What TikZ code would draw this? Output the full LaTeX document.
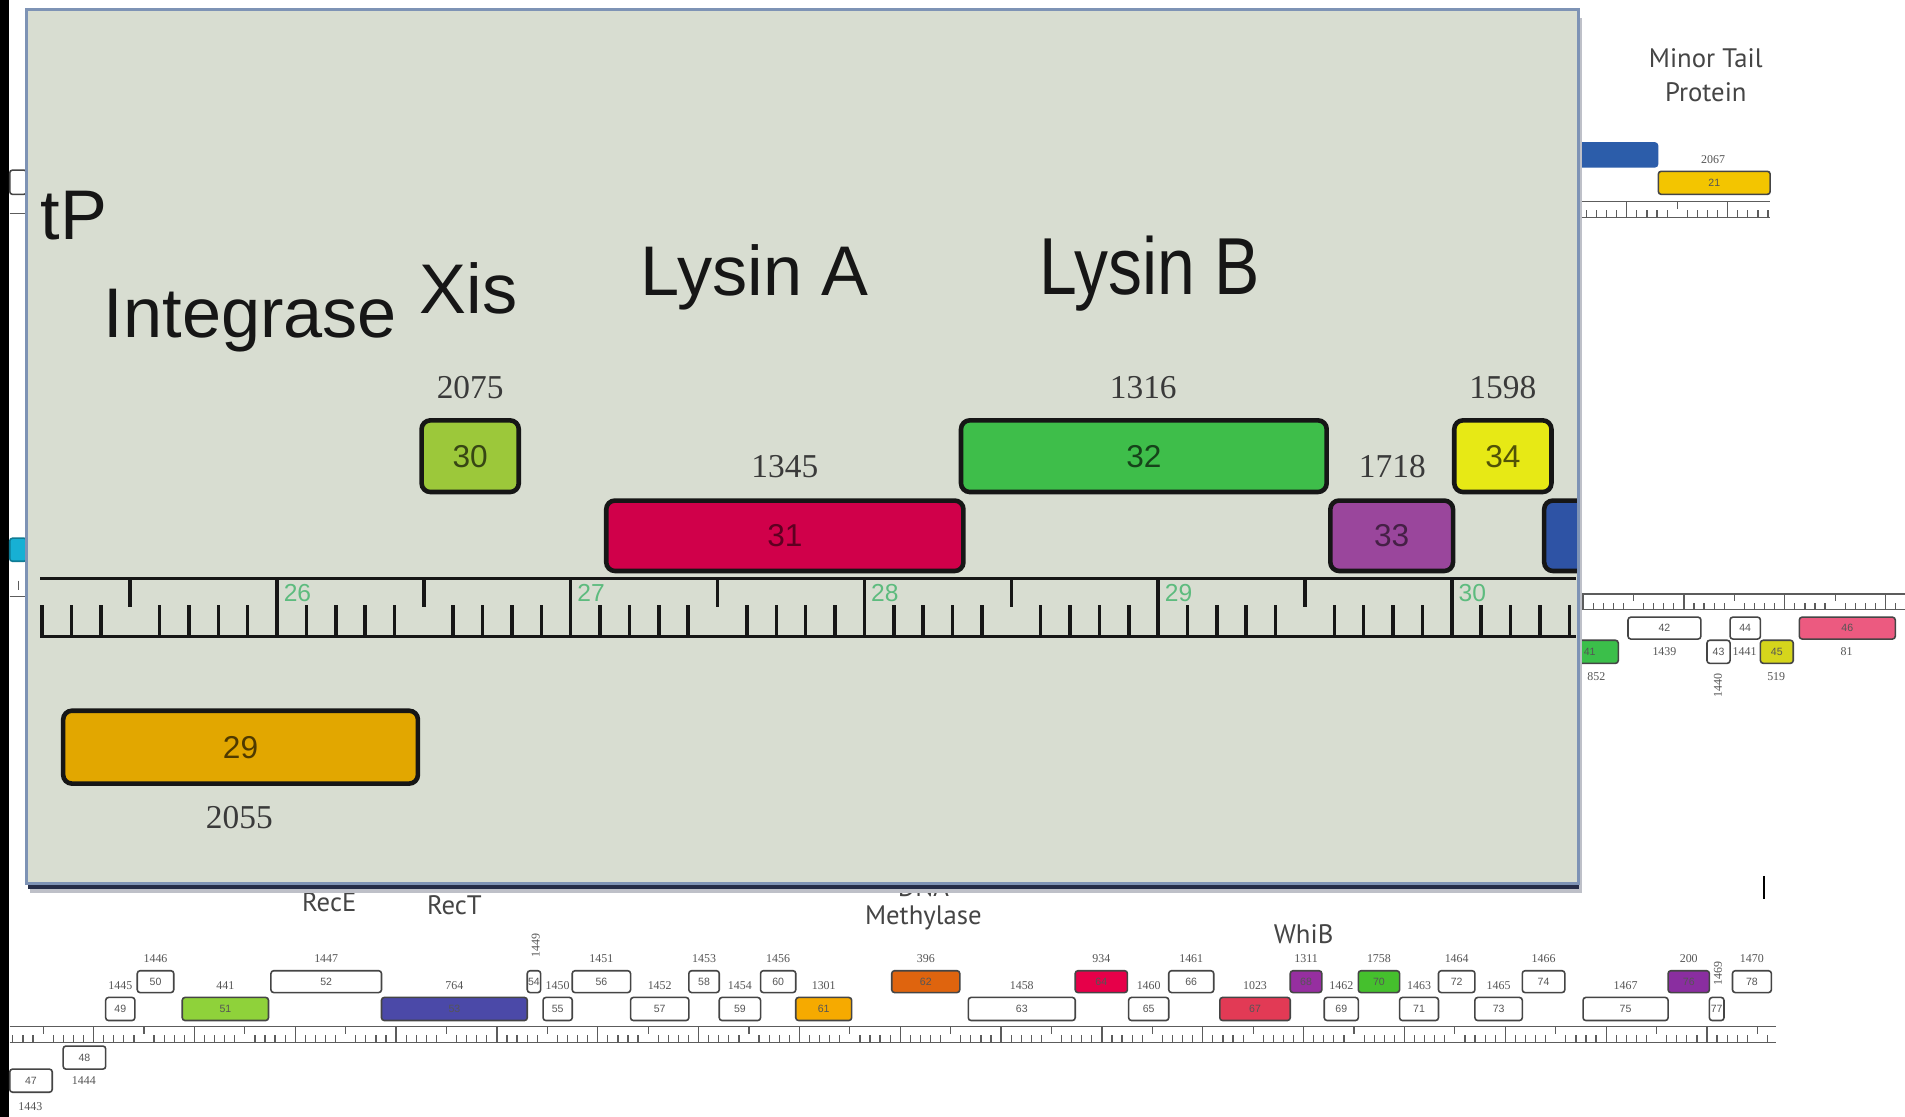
\documentclass[tikz,border=0pt]{standalone}
\usepackage{fontspec}
\usepackage{graphicx}
\setmainfont{Liberation Sans}
\newfontfamily\numfont{Liberation Serif}
\newfontfamily\mapfont{PT Sans}
\usetikzlibrary{positioning}
\definecolor{ink}     {HTML}{161616}
\definecolor{softink} {HTML}{555555}
\definecolor{numgray} {HTML}{3A3A3A}
\definecolor{panel}   {HTML}{D8DDD1}
\definecolor{rim}     {HTML}{7E93B5}
\definecolor{dropcol} {HTML}{252D48}
\definecolor{kbgreen} {HTML}{5DBB7E}
\definecolor{c29}{HTML}{E2A700}
\definecolor{c30}{HTML}{9CC83A}
\definecolor{c31}{HTML}{D0004A}
\definecolor{c32}{HTML}{3EBE4A}
\definecolor{c33}{HTML}{9A469C}
\definecolor{c34}{HTML}{E7E915}
\definecolor{c35}{HTML}{2E53A5}
\definecolor{cgold}{HTML}{F3C500}
\definecolor{cbar}{HTML}{2C5DAA}
\definecolor{ccyan}{HTML}{17B0D4}
\definecolor{c41}{HTML}{3BBF4A}
\definecolor{c45}{HTML}{D5D51C}
\definecolor{c46}{HTML}{EC5A80}
\definecolor{c51}{HTML}{8FD23A}
\definecolor{c53}{HTML}{4B49A8}
\definecolor{c61}{HTML}{F6AA00}
\definecolor{c62}{HTML}{DF640E}
\definecolor{c64}{HTML}{E60049}
\definecolor{c67}{HTML}{E23A55}
\definecolor{c68}{HTML}{962FA0}
\definecolor{c70}{HTML}{45C02D}
\definecolor{c76}{HTML}{8A2EA0}
\tikzset{
  % --- genes
  gene/.style  = {draw=ink, line width=1.3pt, rounded corners=2.5pt},
  mgene/.style = {draw=ink!80, line width=0.45pt, rounded corners=0.8pt},
  glbl/.style  = {font=\fontsize{9}{10}\selectfont, inner sep=0pt},
  mlbl/.style  = {font=\fontsize{3}{3}\selectfont, text=softink, inner sep=0pt},
  gnum/.style  = {font=\numfont\fontsize{9.5}{10}\selectfont, text=numgray, inner sep=0pt},
  mnum/.style  = {font=\numfont\fontsize{3.4}{3.4}\selectfont, text=softink, inner sep=0pt},
  % --- labels
  head/.style  = {font=\fontsize{20}{22}\selectfont, text=ink, inner sep=0pt, anchor=base west},
  func/.style  = {font=\mapfont\fontsize{7.6}{9.6}\selectfont, text=ink!80, align=center, inner sep=0pt},
  kb/.style    = {font=\fontsize{7}{7}\selectfont, text=kbgreen, inner sep=0pt, anchor=west},
  % --- rulers
  tick/.style  = {line width=1pt, draw=ink},
  mtick/.style = {line width=0.35pt, draw=ink!70},
}
% small ruler: top y, x of a kb tick, first, last tenth, left x, right x
\newcommand\miniruler[6]{%
  \draw[mtick] (#5,#1) -- (#6,#1);
  \draw[mtick] (#5,#1+13) -- (#6,#1+13);
  \foreach \i in {#3,...,#4}{
    \pgfmathsetmacro\xx{#2+\i*8.3}
    \pgfmathtruncatemacro\m{mod(\i+1000,10)}
    \ifnum\m=0 \draw[mtick] (\xx,#1) -- (\xx,#1+13);
    \else\ifnum\m=5 \draw[mtick] (\xx,#1) -- (\xx,#1+6);
    \else \draw[mtick] (\xx,#1+13) -- (\xx,#1+7); \fi\fi}}
% genes of the bottom map: x1, x2, fill, number, length
\newcommand\upgene[5]{%
  \draw[mgene, fill=#3] (#1,799) rectangle node[mlbl] (b#4) {#4} (#2,817);
  \node[mnum] (n#4) at ({(#1+#2)/2},789) {#5};}
\newcommand\logene[5]{%
  \draw[mgene, fill=#3] (#1,821) rectangle node[mlbl] (b#4) {#4} (#2,840);
  \node[mnum] (n#4) at ({(#1+#2)/2},811) {#5};}

\begin{document}
\begin{tikzpicture}[x=0.1215mm, y=-0.1215mm]
  \useasboundingbox (0,0) rectangle (1568,919);
  \fill[white] (0,0) rectangle (1568,919);
  \fill[black] (0,0) rectangle (7,919);

  % whole genome map behind the inset
  \draw[mgene, fill=white] (8,140) rectangle (22,160);
  \draw[mtick] (8,176) -- (22,176);
  \draw[mgene, fill=ccyan, draw=ccyan!70!black] (8,443) rectangle (22,462);
  \draw[mtick] (15,478) -- (15,486);
  \draw[mtick] (8,491) -- (22,491);

  \node[func] (mtp) at (1404,62) {Minor Tail\\Protein};
  \fill[cbar, rounded corners=1pt] (1280,117) rectangle (1365,138);
  \node[mnum] (n21) at (1410,131) {2067};
  \draw[mgene, fill=cgold] (1365,141) rectangle node[mlbl] (b21) {21} (1457,160);
  \miniruler{166}{1339}{-4}{14}{1299}{1457}

  \miniruler{489}{1303}{0}{31}{1299}{1568}
  \draw[mgene, fill=c41] (1285,527) rectangle node[mlbl] (b41) {41} (1332,546);
  \node[mnum] (n41) at (1314,557) {852};
  \draw[mgene, fill=white] (1340,508) rectangle node[mlbl] (b42) {42} (1400,526);
  \node[mnum] (n42) at (1370,536) {1439};
  \draw[mgene, fill=white] (1405,527) rectangle node[mlbl] (b43) {43} (1424,546);
  \node[mnum, rotate=90] (n43) at (1414,564) {1440};
  \draw[mgene, fill=white] (1424,508) rectangle node[mlbl] (b44) {44} (1449,526);
  \node[mnum] (n44) at (1436,536) {1441};
  \draw[mgene, fill=c45] (1449,527) rectangle node[mlbl] (b45) {45} (1476,546);
  \node[mnum] (n45) at (1462,557) {519};
  \draw[mgene, fill=c46] (1481,508) rectangle node[mlbl] (b46) {46} (1560,526);
  \node[mnum] (n46) at (1520,536) {81};

  \draw[line width=0.6pt] (1452,721) -- (1452,740);

  \node[func] (rece) at (271,743) {RecE};
  \node[func] (rect) at (374,745) {RecT};
  \node[func, font=\mapfont\fontsize{7.6}{7.8}\selectfont] (dnam) at (760,744) {DNA\\Methylase};
  \node[func] (whib) at (1073,769) {WhiB};

  \miniruler{845}{77}{-8}{166}{8}{1462}
  \draw[mgene, fill=white] (8,880) rectangle node[mlbl] (b47) {47} (43,899);
  \node[mnum] (n47) at (25,911) {1443};
  \draw[mgene, fill=white] (52,861) rectangle node[mlbl] (b48) {48} (87,880);
  \node[mnum] (n48) at (69,889) {1444};
  \logene{87}{111}{white}{49}{1445}
  \upgene{113}{143}{white}{50}{1446}
  \logene{150}{221}{c51}{51}{441}
  \upgene{223}{314}{white}{52}{1447}
  \logene{314}{434}{c53}{53}{764}
  \upgene{434}{445}{white}{54}{}
  \node[mnum, rotate=90] (n54) at (441,778) {1449};
  \logene{447}{471}{white}{55}{1450}
  \upgene{471}{519}{white}{56}{1451}
  \logene{519}{567}{white}{57}{1452}
  \upgene{567}{592}{white}{58}{1453}
  \logene{592}{626}{white}{59}{1454}
  \upgene{626}{655}{white}{60}{1456}
  \logene{655}{701}{c61}{61}{1301}
  \upgene{734}{790}{c62}{62}{396}
  \logene{797}{885}{white}{63}{1458}
  \upgene{885}{928}{c64}{64}{934}
  \logene{929}{962}{white}{65}{1460}
  \upgene{962}{999}{white}{66}{1461}
  \logene{1004}{1062}{c67}{67}{1023}
  \upgene{1062}{1088}{c68}{68}{1311}
  \logene{1090}{1118}{white}{69}{1462}
  \upgene{1118}{1152}{c70}{70}{1758}
  \logene{1152}{1184}{white}{71}{1463}
  \upgene{1184}{1214}{white}{72}{1464}
  \logene{1214}{1253}{white}{73}{1465}
  \upgene{1253}{1288}{white}{74}{1466}
  \logene{1303}{1373}{white}{75}{1467}
  \upgene{1373}{1407}{c76}{76}{200}
  \logene{1407}{1419}{white}{77}{}
  \node[mnum, rotate=90] (n77) at (1414,801) {1469};
  \upgene{1426}{1458}{white}{78}{1470}

  % the inset
  \fill[dropcol!30] (25,15) rectangle (1302,735);
  \fill[dropcol] (23,12) rectangle (1300,732);
  \draw[rim, line width=0.8pt, fill=panel] (22,8) rectangle (1299,727);

  \begin{scope}
    \clip (23,9) rectangle (1298,726);
    \node[head] (tp) at (33,197) {tP};
    \node[head] (int) at (85,278) {Integrase};
    \node[head] (xis) at (345,258) {Xis};
    \node[head] (lya) at (527,243) {Lysin A};
    \node[head] (lyb) at (855,242) {\scalebox{0.84}[1]{\fontsize{23}{25}\selectfont Lysin B}};

    \draw[gene, fill=c30] (347,346) rectangle node[glbl, text=c30!35!black] (g30) {30} (427,405);
    \node[gnum] (n30) at (387,319) {2075};
    \draw[gene, fill=c31] (499,412) rectangle node[glbl, text=c31!45!black] (g31) {31} (793,470);
    \node[gnum] (n31) at (646,384) {1345};
    \draw[gene, fill=c32] (791,346) rectangle node[glbl, text=c32!35!black] (g32) {32} (1092,405);
    \node[gnum] (n32) at (941,319) {1316};
    \draw[gene, fill=c33] (1095,412) rectangle node[glbl, text=c33!45!black] (g33) {33} (1196,470);
    \node[gnum] (n33) at (1146,384) {1718};
    \draw[gene, fill=c34] (1197,346) rectangle node[glbl, text=c34!35!black] (g34) {34} (1277,405);
    \node[gnum] (n34) at (1237,319) {1598};
    \draw[gene, fill=c35] (1271,412) rectangle (1330,470);
    \draw[gene, fill=c29] (52,585) rectangle node[glbl, text=c29!35!black] (g29) {29} (344,645);
    \node[gnum] (n29) at (197,673) {2055};

    % ruler, 25.2 to 30.4 kb
    \draw[tick] (33,476) -- (1297,476);
    \draw[tick] (33,524) -- (1297,524);
    \foreach \i in {2,...,54}{
      \pgfmathsetmacro\xx{228+(\i-10)*24.175}
      \pgfmathtruncatemacro\m{mod(\i,10)}
      \ifnum\m=0 \draw[tick] (\xx,476) -- (\xx,524);
      \else\ifnum\m=5 \draw[tick] (\xx,476) -- (\xx,500);
      \else \draw[tick] (\xx,524) -- (\xx,498); \fi\fi}
    \foreach \k in {26,...,30}
      \node[kb] (kb\k) at ({228+(\k-26)*241.75+5},488) {\k};
  \end{scope}
\end{tikzpicture}
\end{document}
